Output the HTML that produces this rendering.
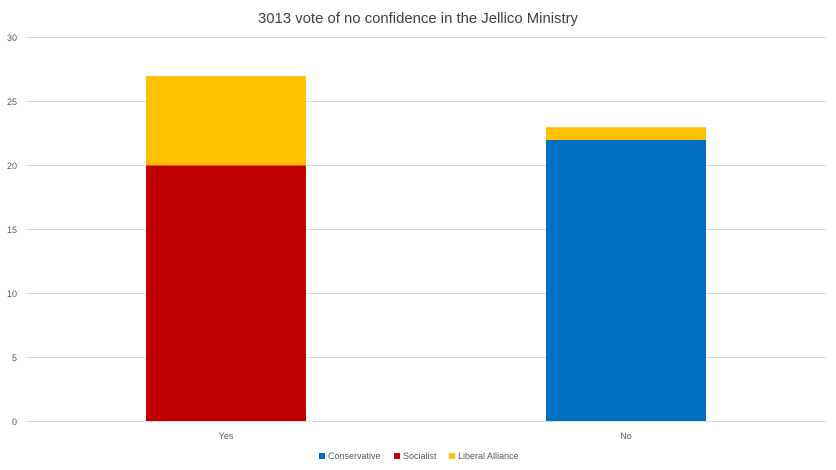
<!DOCTYPE html>
<html><head><style>body{margin:0;background:#fff}svg{display:block}</style></head><body>
<svg width="836" height="470" xmlns="http://www.w3.org/2000/svg" font-family="'Liberation Sans', sans-serif">
<rect width="836" height="470" fill="#fff"/>
<text x="418" y="23" text-anchor="middle" font-size="15" fill="#404040" textLength="320" lengthAdjust="spacingAndGlyphs">3013 vote of no confidence in the Jellico Ministry</text>
<g stroke="#d9d9d9" stroke-width="1">
<line x1="26" x2="826" y1="37.5" y2="37.5"/>
<line x1="26" x2="826" y1="101.5" y2="101.5"/>
<line x1="26" x2="826" y1="165.5" y2="165.5"/>
<line x1="26" x2="826" y1="229.5" y2="229.5"/>
<line x1="26" x2="826" y1="293.5" y2="293.5"/>
<line x1="26" x2="826" y1="357.5" y2="357.5"/>
</g>
<g font-size="9" fill="#595959" text-anchor="end">
<text x="17" y="41">30</text><text x="17" y="105">25</text><text x="17" y="169">20</text>
<text x="17" y="233">15</text><text x="17" y="297">10</text><text x="17" y="361">5</text><text x="17" y="425">0</text>
</g>
<rect x="146" y="165.5" width="160" height="256" fill="#c00000"/>
<rect x="146" y="76.1" width="160" height="89.4" fill="#ffc000"/>
<rect x="546" y="140" width="160" height="281.5" fill="#0070c0"/>
<rect x="546" y="127.2" width="160" height="12.8" fill="#ffc000"/>
<line x1="26" x2="826" y1="421.5" y2="421.5" stroke="#d9d9d9"/>
<g font-size="9" fill="#595959" text-anchor="middle">
<text x="226" y="439">Yes</text><text x="626" y="439">No</text>
</g>
<g font-size="9" fill="#595959">
<rect x="319" y="453" width="6" height="6" fill="#0070c0"/><text x="328" y="459">Conservative</text>
<rect x="394" y="453" width="6" height="6" fill="#c00000"/><text x="403" y="459">Socialist</text>
<rect x="449" y="453" width="6" height="6" fill="#ffc000"/><text x="458" y="459">Liberal Alliance</text>
</g>
</svg>
</body></html>
